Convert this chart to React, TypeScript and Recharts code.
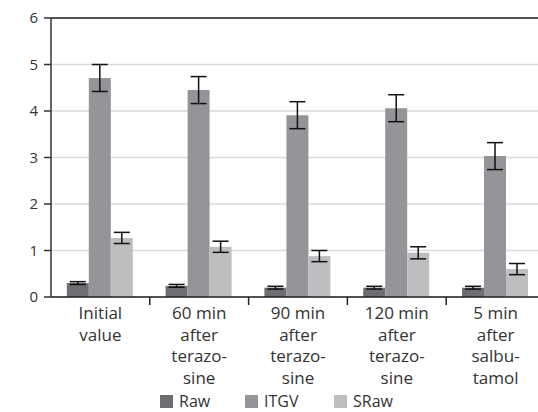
import { BarChart, Bar, XAxis, YAxis, CartesianGrid, Legend, ErrorBar, ReferenceLine } from 'recharts'

const categories = ['Initial value', '60 min after terazosine', '90 min after terazosine', '120 min after terazosine', '5 min after salbutamol']
const tickLines = [
  ['Initial', 'value'],
  ['60 min', 'after', 'terazo-', 'sine'],
  ['90 min', 'after', 'terazo-', 'sine'],
  ['120 min', 'after', 'terazo-', 'sine'],
  ['5 min', 'after', 'salbu-', 'tamol'],
]
const raw = [0.3, 0.24, 0.2, 0.2, 0.2]
const rawErr = [0.03, 0.03, 0.03, 0.03, 0.03]
const itgv = [4.71, 4.45, 3.91, 4.06, 3.03]
const itgvErr = [0.29, 0.29, 0.29, 0.29, 0.29]
const sraw = [1.27, 1.08, 0.88, 0.95, 0.6]
const srawErr = [0.12, 0.12, 0.12, 0.13, 0.12]
const yTicks = [0, 1, 2, 3, 4, 5, 6]
const seriesNames = ['Raw', 'ITGV', 'SRaw'] as const

const data = categories.map((c, i) => ({
  name: c,
  Raw: raw[i],
  rawErr: rawErr[i],
  ITGV: itgv[i],
  itgvErr: itgvErr[i],
  SRaw: sraw[i],
  srawErr: srawErr[i],
}))

const colors = { Raw: '#6d6e71', ITGV: '#939598', SRaw: '#bcbec0' }
const FONT = '"Open Sans", sans-serif'
const CHART_W = 545
const LEFT = 51
const BAND = (CHART_W - LEFT) / categories.length

const XTick = (props: any) => {
  const { x, y, payload, index } = props
  const lines = tickLines[payload.index ?? index] || []
  return (
    <g>
      {index > 0 && <line x1={x - BAND / 2} x2={x - BAND / 2} y1={y} y2={y + 8} stroke="#222" strokeWidth={1.5} />}
      <text x={x} y={y + 22} textAnchor="middle" fill="#333" fontSize={17} fontFamily={FONT}>
        {lines.map((l, i) => (
          <tspan key={i} x={x} dy={i === 0 ? 0 : 21.7}>{l}</tspan>
        ))}
      </text>
    </g>
  )
}

const itemWidths = [85, 89, 60]

const LegendContent = () => (
  <div style={{ display: 'flex', paddingLeft: 160, paddingTop: 2, fontFamily: FONT, fontSize: 16, color: '#333', lineHeight: '20px' }}>
    {seriesNames.map((k, i) => (
      <div key={k} style={{ display: 'flex', alignItems: 'center', width: itemWidths[i] }}>
        <span style={{ width: 13, height: 13, background: colors[k], display: 'inline-block', marginRight: 6 }} />
        <span>{k}</span>
      </div>
    ))}
  </div>
)

export default function App() {
  return (
    <div style={{ position: 'absolute', left: 0, top: 0, width: 538, height: 412, overflow: 'hidden', background: '#fff' }}>
      <BarChart
        width={CHART_W}
        height={412}
        data={data}
        margin={{ top: 18, right: 0, left: 0, bottom: 0 }}
        barCategoryGap="16%"
        barGap={0}
      >
        <CartesianGrid vertical={false} stroke="#dadada" strokeWidth={1.5} />
        <ReferenceLine y={6} stroke="#222" strokeWidth={1.5} />
        <XAxis
          dataKey="name"
          height={92}
          interval={0}
          tickLine={false}
          tickSize={0}
          tickMargin={0}
          axisLine={{ stroke: '#222', strokeWidth: 1.5 }}
          tick={<XTick />}
        />
        <YAxis
          width={LEFT}
          domain={[0, 6]}
          ticks={yTicks}
          interval={0}
          tickSize={7}
          tickMargin={6}
          axisLine={{ stroke: '#333', strokeWidth: 1.5 }}
          tickLine={{ stroke: '#333', strokeWidth: 1.5 }}
          tick={{ fill: '#333', fontSize: 15, fontFamily: FONT }}
        />
        <Legend verticalAlign="bottom" height={23} content={<LegendContent />} />
        <Bar dataKey="Raw" fill={colors.Raw} isAnimationActive={false}>
          <ErrorBar dataKey="rawErr" width={8} stroke="#111" strokeWidth={1.5} />
        </Bar>
        <Bar dataKey="ITGV" fill={colors.ITGV} isAnimationActive={false}>
          <ErrorBar dataKey="itgvErr" width={8} stroke="#111" strokeWidth={1.5} />
        </Bar>
        <Bar dataKey="SRaw" fill={colors.SRaw} isAnimationActive={false}>
          <ErrorBar dataKey="srawErr" width={8} stroke="#111" strokeWidth={1.5} />
        </Bar>
      </BarChart>
    </div>
  )
}
